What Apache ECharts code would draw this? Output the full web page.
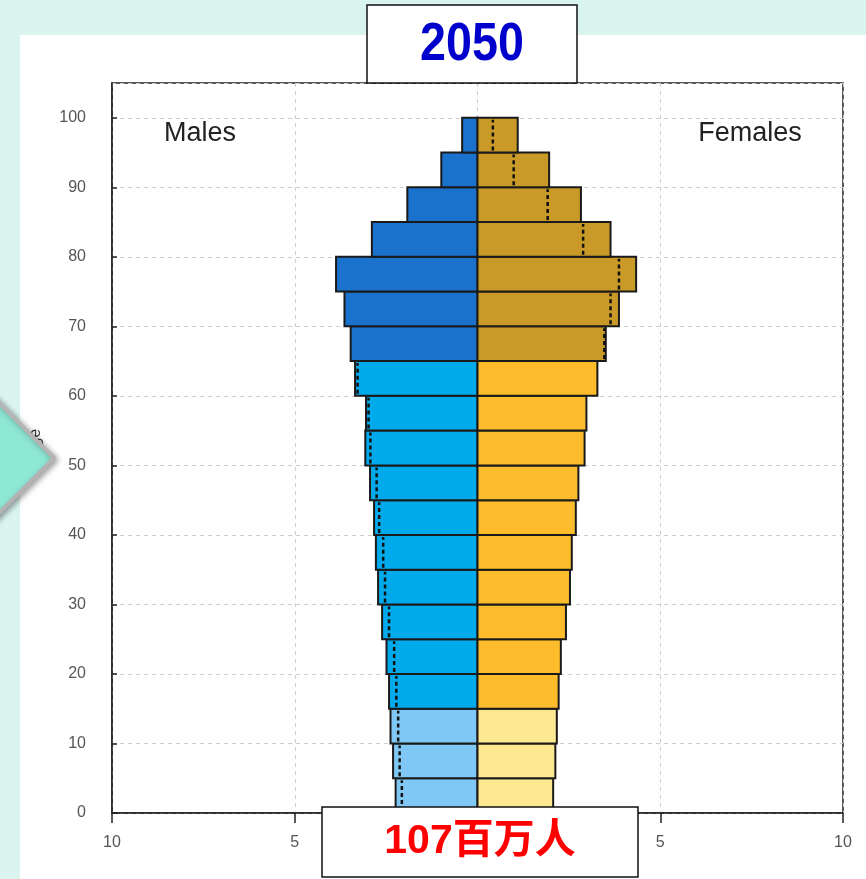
<!DOCTYPE html>
<html><head><meta charset="utf-8">
<script src="https://cdn.jsdelivr.net/npm/echarts@6/dist/echarts.min.js"></script>
<style>
html,body{margin:0;padding:0;background:#daf4ef;overflow:hidden;}
#wrap{position:relative;width:866px;height:879px;}
#panel{position:absolute;left:20px;top:35px;width:846px;height:844px;background:#fff;}
#chart{position:absolute;left:0;top:0;width:866px;height:879px;}
</style></head><body>
<div id="wrap"><div id="panel"></div><div id="chart"></div></div>
<script>
// Age groups (start of each 5-year band)
const ageStarts = [0,5,10,15,20,25,30,35,40,45,50,55,60,65,70,75,80,85,90,95];
const ageBand = 5;
// Population share (%), 2050
const males   = [2.24,2.31,2.38,2.42,2.49,2.61,2.72,2.78,2.83,2.94,3.07,3.05,3.35,3.47,3.64,3.87,2.89,1.92,0.99,0.42];
const females = [2.07,2.13,2.17,2.22,2.28,2.42,2.53,2.58,2.69,2.76,2.93,2.98,3.28,3.51,3.87,4.34,3.64,2.83,1.96,1.10];
const xTickValues = [-10,-5,0,5,10];
const yTickValues = [0,10,20,30,40,50,60,70,80,90,100];
const titleText = '2050';
const totalText = '107百万人';
const leftLabel = 'Males';
const rightLabel = 'Females';
const axisName = 'Age';

const FONT = "'Liberation Sans', Arial, 'Noto Sans CJK SC', sans-serif";
function maleColor(a){ return a < 15 ? '#7fc7f4' : (a < 65 ? '#00aaeb' : '#1b72cc'); }
function femaleColor(a){ return a < 15 ? '#fde98f' : (a < 65 ? '#fdbc2b' : '#c99a27'); }

function barSeries(vals, sign, colorFn){
  return {
    type:'custom', silent:true, clip:false, z:3,
    data: vals.map((v,i)=>[sign*v, ageStarts[i]]),
    encode:{x:0,y:1},
    renderItem(params, api){
      const v = api.value(0), a = api.value(1);
      const p0 = api.coord([0, a]);
      const p1 = api.coord([v, a + ageBand]);
      const x = Math.min(p0[0], p1[0]);
      return {type:'rect', shape:{x:x, y:p1[1], width:Math.abs(p1[0]-p0[0]), height:p0[1]-p1[1]},
        style:{fill:colorFn(a), stroke:'#1a1a1a', lineWidth:2}};
    }
  };
}
function dotSeries(own, other, sign){
  const d = [];
  own.forEach((v,i)=>{ if (other[i] < v) d.push([sign*other[i], ageStarts[i]]); });
  return {
    type:'custom', silent:true, clip:false, z:4,
    data:d, encode:{x:0,y:1},
    renderItem(params, api){
      const v = api.value(0), a = api.value(1);
      const p0 = api.coord([v, a]);
      const p1 = api.coord([v, a + ageBand]);
      return {type:'line', shape:{x1:p0[0], y1:p0[1]-2, x2:p1[0], y2:p1[1]+2},
        style:{stroke:'#111', lineWidth:2.5, lineDash:[4,3]}};
    }
  };
}

const chart = echarts.init(document.getElementById('chart'), null, {renderer:'canvas'});
chart.setOption({
  animation:false,
  backgroundColor:'transparent',
  grid:{left:112, right:23, top:83, bottom:66, show:true, borderColor:'#222', borderWidth:1.5, backgroundColor:'transparent'},
  xAxis:{
    type:'value', min:xTickValues[0], max:xTickValues[xTickValues.length-1], interval:5,
    axisLine:{show:true, onZero:false, lineStyle:{color:'#222', width:1.5}},
    axisTick:{show:true, length:10, lineStyle:{color:'#222', width:1.5}},
    axisLabel:{margin:22, fontSize:16, color:'#555', fontFamily:FONT, formatter:v=>String(Math.abs(v))},
    splitLine:{show:true, lineStyle:{color:'#cfcfcf', type:[4,4], width:1}}
  },
  yAxis:{
    type:'value', min:yTickValues[0], max:105, interval:10,
    axisLine:{show:true, onZero:false, lineStyle:{color:'#222', width:1.5}},
    axisTick:{show:true, inside:true, length:5, lineStyle:{color:'#222', width:1.5}},
    axisLabel:{margin:26, fontSize:16, color:'#555', fontFamily:FONT, showMaxLabel:false,
      formatter:v=> yTickValues.indexOf(v) >= 0 ? String(v) : ''},
    splitLine:{show:true, lineStyle:{color:'#cfcfcf', type:[4,4], width:1}}
  },
  series:[
    barSeries(males, -1, maleColor),
    barSeries(females, 1, femaleColor),
    dotSeries(males, females, -1),
    dotSeries(females, males, 1)
  ],
  graphic:[
    {type:'text', z:50, x:36, y:443, rotation:Math.PI/2,
      style:{text:axisName, fontSize:16, fontFamily:FONT, fill:'#333', textAlign:'center', textVerticalAlign:'middle'}},
    {type:'polygon', z:60, shape:{points:[[-10,394],[54,458],[-10,522]]},
      style:{fill:'#8fe8d6', stroke:'#b4b4b4', lineWidth:4, shadowBlur:6, shadowColor:'rgba(0,0,0,0.35)', shadowOffsetX:2, shadowOffsetY:2}},
    {type:'text', z:50, x:200, y:134,
      style:{text:leftLabel, fontSize:27, fontFamily:FONT, fill:'#222', textAlign:'center', textVerticalAlign:'middle'}},
    {type:'text', z:50, x:750, y:134,
      style:{text:rightLabel, fontSize:27, fontFamily:FONT, fill:'#222', textAlign:'center', textVerticalAlign:'middle'}},
    {type:'rect', z:70, shape:{x:367, y:5, width:210, height:78},
      style:{fill:'#fff', stroke:'#111', lineWidth:1.5}},
    {type:'text', z:71, x:472, y:45, scaleX:0.88,
      style:{text:titleText, font:"bold 53px 'Liberation Sans', Arial, sans-serif", fill:'#0000cc', textAlign:'center', textVerticalAlign:'middle'}},
    {type:'rect', z:70, shape:{x:322, y:807, width:316, height:70},
      style:{fill:'#fff', stroke:'#111', lineWidth:1.5}},
    {type:'text', z:71, x:480, y:842,
      style:{text:totalText, font:"bold 41px 'Liberation Sans', 'Noto Sans CJK SC', sans-serif", fill:'#ff0000', textAlign:'center', textVerticalAlign:'middle'}}
  ]
});
</script>
</body></html>
